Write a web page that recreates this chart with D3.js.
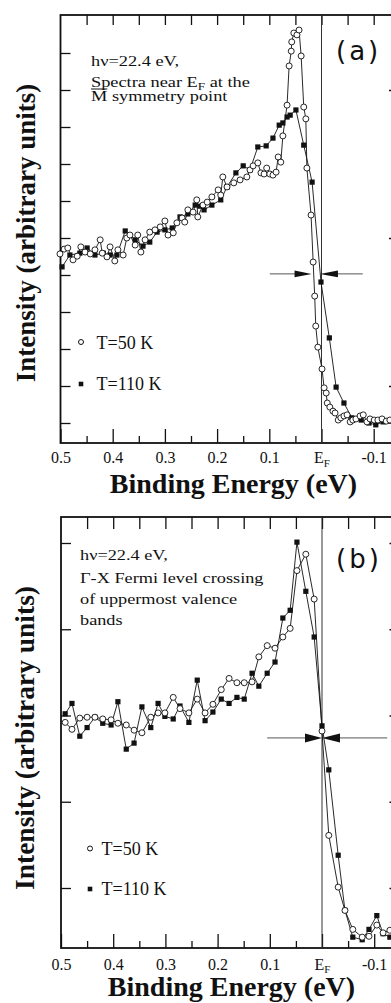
<!DOCTYPE html>
<html>
<head>
<meta charset="utf-8">
<script src="https://cdn.jsdelivr.net/npm/d3@7"></script>
<style>
  body { margin: 0; background: #fff; }
  svg { display: block; }
  text { font-family: "Liberation Serif", "Times New Roman", serif; fill: #111; }
</style>
</head>
<body>
<svg id="chart" width="391" height="1003"></svg>
<script>
// binding energy axis (eV)
const energyMajor = [0.5, 0.4, 0.3, 0.2, 0.1, 0, -0.1];
const energyMinor = [0.45, 0.35, 0.25, 0.15, 0.05, -0.05];
const energyTop = [0.45, 0.4, 0.35, 0.3, 0.25, 0.2, 0.15, 0.1, 0.05, 0, -0.05, -0.1];

// panel (a): [binding energy, intensity]
const a50K = [[0.501,4.57],[0.493,4.70],[0.486,4.73],[0.476,4.41],[0.468,4.51],[0.461,4.76],[0.453,4.62],
  [0.443,4.57],[0.434,4.68],[0.424,4.95],[0.420,4.59],[0.411,4.49],[0.405,4.76],[0.396,4.38],[0.390,4.68],
  [0.380,4.54],[0.373,5.00],[0.367,5.08],[0.357,4.81],[0.352,5.08],[0.346,4.62],[0.338,4.95],[0.329,5.16],
  [0.319,5.22],[0.309,5.30],[0.300,5.46],[0.294,5.08],[0.284,5.14],[0.277,5.41],[0.267,5.54],[0.262,5.43],
  [0.256,5.76],[0.246,5.70],[0.239,6.03],[0.237,5.57],[0.227,5.89],[0.219,5.97],[0.210,6.11],[0.198,6.30],
  [0.193,6.16],[0.189,6.65],[0.181,6.38],[0.168,6.49],[0.156,6.57],[0.143,6.65],[0.137,6.84],[0.131,6.95],
  [0.122,7.03],[0.116,6.76],[0.110,6.73],[0.105,6.89],[0.099,6.73],[0.093,6.70],[0.087,6.78],[0.083,7.19],
  [0.078,7.05],[0.074,7.76],[0.066,8.59],[0.062,9.65],[0.058,10.05],[0.057,10.30],[0.053,10.54],[0.047,10.49],
  [0.043,10.62],[0.039,9.92],[0.034,8.54],[0.030,8.22],[0.028,6.89],[0.020,5.62],[0.016,4.35],[0.013,3.43],
  [0.011,2.62],[0.007,2.05],[-0.001,1.46],[-0.005,0.95],[-0.009,0.81],[-0.011,0.54],[-0.016,0.43],
  [-0.022,0.32],[-0.026,0.27],[-0.032,0.08],[-0.037,0.14],[-0.043,0.19],[-0.049,0.22],[-0.055,0.03],
  [-0.060,0.08],[-0.066,0.11],[-0.074,0.19],[-0.080,0.22],[-0.087,0.03],[-0.093,0.11],[-0.101,0.08],
  [-0.108,0.08],[-0.116,0.11],[-0.124,0.05],[-0.131,0.08]];
const a110K = [[0.497,4.22],[0.482,4.54],[0.463,4.59],[0.449,4.73],[0.434,4.54],[0.418,4.59],[0.405,4.54],
  [0.392,4.54],[0.376,5.19],[0.357,4.95],[0.342,4.78],[0.329,4.89],[0.315,5.16],[0.300,5.22],[0.286,5.27],
  [0.271,5.57],[0.256,5.65],[0.242,5.89],[0.233,5.86],[0.225,5.76],[0.210,5.89],[0.193,6.03],[0.181,6.38],
  [0.164,6.76],[0.150,6.95],[0.137,6.84],[0.122,7.46],[0.106,7.49],[0.093,7.70],[0.081,8.05],[0.074,8.11],
  [0.066,8.27],[0.060,8.32],[0.049,8.46],[0.034,7.51],[0.018,6.51],[0.001,3.81],[-0.015,2.30],[-0.028,0.97],
  [-0.043,0.54],[-0.058,0.14],[-0.076,0.08],[-0.091,0.00],[-0.104,-0.05],[-0.118,0.03],[-0.129,0.05]];
const aHalfWidth = [0.099, 0.019, 0.003, -0.079]; // left arrow tail, tip | right arrow tip, tail
const aHalfLevel = 4.03;

// panel (b): both temperatures share the energy grid
const bEnergy = [0.492,0.479,0.464,0.450,0.435,0.420,0.404,0.391,0.375,0.360,0.345,0.328,0.314,0.301,0.285,
  0.272,0.255,0.239,0.224,0.209,0.193,0.178,0.163,0.149,0.134,0.121,0.105,0.090,0.075,0.061,0.048,0.031,
  0.015,0.000,-0.013,-0.031,-0.044,-0.059,-0.077,-0.090,-0.105,-0.117,-0.130];
const b50K = [1.92,1.84,1.97,1.98,1.98,1.96,1.95,1.91,1.89,1.83,1.80,1.98,2.03,2.03,2.21,2.08,2.03,2.19,2.03,
  2.13,2.30,2.43,2.38,2.38,2.39,2.68,2.81,2.78,2.91,3.01,3.68,3.87,3.35,1.82,0.61,0.01,-0.26,-0.48,-0.57,
  -0.56,-0.43,-0.52,-0.49];
const b110K = [2.02,2.14,1.76,1.86,1.98,1.91,1.89,2.16,1.61,1.68,2.10,1.86,2.14,1.99,1.96,2.11,1.92,2.41,1.94,
  2.04,2.19,2.14,2.21,2.19,2.49,2.34,2.49,2.62,3.13,3.22,4.01,3.44,2.91,1.88,1.37,0.38,-0.26,-0.57,-0.60,
  -0.48,-0.32,-0.53,-0.57];
const bHalfWidth = [0.105, 0, 0, -0.125];
const bHalfLevel = 1.74;

const svg = d3.select("#chart");

const panels = [
  {
    left: 60.5, zero: 321.5, right: 398, top: 15, bottom: 443,
    yDomain: [0, 10], yRange: [423, 53], leftTicks: d3.range(0, 11), rightTicks: [1, 5, 9],
    topTick: 10, labelPad: 9,
    s50: a50K, s110: a110K, half: aHalfWidth, halfLevel: aHalfLevel, head: 3.4,
    tag: "(a)", tagY: 59.5,
    note: { x: 91, scale: 1.31, size: 14, lines: [
      { y: 66, parts: [["hν=22.4 eV,"]] },
      { y: 86.5, parts: [["Spectra near E"], ["F", "sub"], [" at the"]] },
      { y: 100.5, parts: [["M"], [" symmetry point"]], bar: true }
    ]},
    legend: [{ y: 342, ty: 348.5, kind: "c" }, { y: 384, ty: 389.5, kind: "s" }], legX: 81, legTX: 96.5, legSize: 18,
    xTitleY: 492.5, xTitleX: 233.5, yTitleX: 35, yTitleY: 233, yTitleSize: 27
  },
  {
    left: 61, zero: 322, right: 398.5, top: 517, bottom: 948,
    yDomain: [0, 4], yRange: [888, 543], leftTicks: d3.range(0, 5), rightTicks: d3.range(0, 5),
    topTick: 12, labelPad: 10.5,
    s50: bEnergy.map((e, i) => [e, b50K[i]]), s110: bEnergy.map((e, i) => [e, b110K[i]]),
    half: bHalfWidth, halfLevel: bHalfLevel, head: 4.5,
    tag: "(b)", tagY: 568,
    note: { x: 80, scale: 1.26, size: 14.5, lines: [
      { y: 560, parts: [["hν=22.4 eV,"]] },
      { y: 583, parts: [["Γ-X Fermi level crossing"]] },
      { y: 604, parts: [["of uppermost valence"]] },
      { y: 625, parts: [["bands"]] }
    ]},
    legend: [{ y: 848.5, ty: 854.5, kind: "c" }, { y: 889, ty: 895, kind: "s" }], legX: 90, legTX: 101.5, legSize: 18,
    xTitleY: 996, xTitleX: 231.5, yTitleX: 33.5, yTitleY: 738, yTitleSize: 27.5
  }
];

const fmt = d => d === 0 ? "E" : d.toFixed(1);

function cleanAxis(g) {
  g.attr("font-size", null).attr("font-family", null);
  g.select(".domain").remove();
  g.selectAll(".tick line").attr("stroke", "#111").attr("stroke-width", 1.3);
}

panels.forEach(p => {
  const g = svg.append("g");
  const xEnd = (p.right - p.zero) / (p.zero - p.left) * -0.5;
  const x = d3.scaleLinear().domain([0.5, xEnd]).range([p.left, p.right]);
  const y = d3.scaleLinear().domain(p.yDomain).range(p.yRange);

  // axes (ticks point inward)
  g.append("g").attr("transform", `translate(0,${p.bottom})`)
    .call(d3.axisBottom(x).tickValues(energyMajor).tickSizeInner(-14).tickSizeOuter(0)
      .tickPadding(p.labelPad).tickFormat(fmt))
    .call(cleanAxis)
    .selectAll("text").attr("font-size", 16)
    .filter(d => d === 0)
    .append("tspan").attr("font-size", 11).attr("dy", 3.5).text("F");

  g.append("g").attr("transform", `translate(0,${p.bottom})`)
    .call(d3.axisBottom(x).tickValues(energyMinor).tickSizeInner(-7).tickSizeOuter(0).tickFormat(""))
    .call(cleanAxis);

  g.append("g").attr("transform", `translate(0,${p.top})`)
    .call(d3.axisTop(x).tickValues(energyTop).tickSizeInner(-p.topTick).tickSizeOuter(0).tickFormat(""))
    .call(cleanAxis);

  g.append("g").attr("transform", `translate(${p.left},0)`)
    .call(d3.axisLeft(y).tickValues(p.leftTicks).tickSizeInner(-10).tickSizeOuter(0).tickFormat(""))
    .call(cleanAxis);

  g.append("g").attr("transform", `translate(${p.right},0)`)
    .call(d3.axisRight(y).tickValues(p.rightTicks).tickSizeInner(-9).tickSizeOuter(0).tickFormat(""))
    .call(cleanAxis);

  g.append("rect")
    .attr("x", p.left).attr("y", p.top)
    .attr("width", p.right - p.left).attr("height", p.bottom - p.top)
    .attr("fill", "none").attr("stroke", "#111").attr("stroke-width", 1.8);

  // Fermi level
  g.append("line")
    .attr("x1", x(0)).attr("x2", x(0)).attr("y1", p.top).attr("y2", p.bottom)
    .attr("stroke", "#333").attr("stroke-width", 1);

  // half-width arrows
  const hy = y(p.halfLevel);
  const [l0, l1, r0, r1] = p.half.map(x);
  g.append("line").attr("x1", l0).attr("x2", l1 - 10).attr("y1", hy).attr("y2", hy)
    .attr("stroke", "#555").attr("stroke-width", 1);
  g.append("line").attr("x1", r0 + 10).attr("x2", r1).attr("y1", hy).attr("y2", hy)
    .attr("stroke", "#555").attr("stroke-width", 1);
  g.append("path").attr("d", `M${l1},${hy}L${l1 - 17},${hy - p.head}L${l1 - 17},${hy + p.head}Z`).attr("fill", "#111");
  g.append("path").attr("d", `M${r0},${hy}L${r0 + 18},${hy - p.head}L${r0 + 18},${hy + p.head}Z`).attr("fill", "#111");

  // spectra
  const line = d3.line().x(d => x(d[0])).y(d => y(d[1]));
  [p.s110, p.s50].forEach(s => {
    g.append("path").datum(s).attr("d", line)
      .attr("fill", "none").attr("stroke", "#111").attr("stroke-width", 0.9);
  });
  g.append("g").selectAll("rect").data(p.s110).join("rect")
    .attr("x", d => x(d[0]) - 2.6).attr("y", d => y(d[1]) - 2.6)
    .attr("width", 5.2).attr("height", 5.2).attr("fill", "#111");
  g.append("g").selectAll("circle").data(p.s50).join("circle")
    .attr("cx", d => x(d[0])).attr("cy", d => y(d[1])).attr("r", 3)
    .attr("fill", "#fff").attr("stroke", "#111").attr("stroke-width", 0.9);

  // annotation
  p.note.lines.forEach(ln => {
    const lg = g.append("g").attr("transform", `translate(${p.note.x},${ln.y}) scale(${p.note.scale},1)`);
    const t = lg.append("text").attr("font-size", p.note.size);
    let afterSub = false;
    ln.parts.forEach(([s, kind]) => {
      if (kind === "sub") {
        t.append("tspan").attr("font-size", p.note.size * 0.72).attr("dy", 3).text(s);
        afterSub = true;
      } else {
        const ts = t.append("tspan").text(s);
        if (afterSub) { ts.attr("dy", -3); afterSub = false; }
      }
    });
    if (ln.bar) {
      const w = t.node().getSubStringLength(0, 1);
      lg.append("line").attr("x1", 0).attr("x2", w).attr("y1", -11.5).attr("y2", -11.5)
        .attr("stroke", "#111").attr("stroke-width", 1);
    }
  });

  g.append("text").attr("x", 336).attr("y", p.tagY)
    .style("font-family", "'DejaVu Sans', sans-serif")
    .attr("font-size", 26).attr("letter-spacing", 3).text(p.tag);

  // legend
  p.legend.forEach((L, i) => {
    if (L.kind === "c") {
      g.append("circle").attr("cx", p.legX).attr("cy", L.y).attr("r", 2.5)
        .attr("fill", "#fff").attr("stroke", "#111").attr("stroke-width", 1);
    } else {
      g.append("rect").attr("x", p.legX - 2.3).attr("y", L.y - 2.3).attr("width", 4.6).attr("height", 4.6).attr("fill", "#111");
    }
    g.append("text").attr("x", p.legTX).attr("y", L.ty).attr("font-size", p.legSize)
      .text(i === 0 ? "T=50 K" : "T=110 K");
  });

  // axis titles
  g.append("text").attr("x", p.xTitleX).attr("y", p.xTitleY)
    .attr("text-anchor", "middle").attr("font-weight", "bold").attr("font-size", 28)
    .text("Binding Energy (eV)");
  g.append("text").attr("transform", `translate(${p.yTitleX},${p.yTitleY}) rotate(-90)`)
    .attr("text-anchor", "middle").attr("font-weight", "bold").attr("font-size", p.yTitleSize)
    .text("Intensity (arbitrary units)");
});
</script>
</body>
</html>
